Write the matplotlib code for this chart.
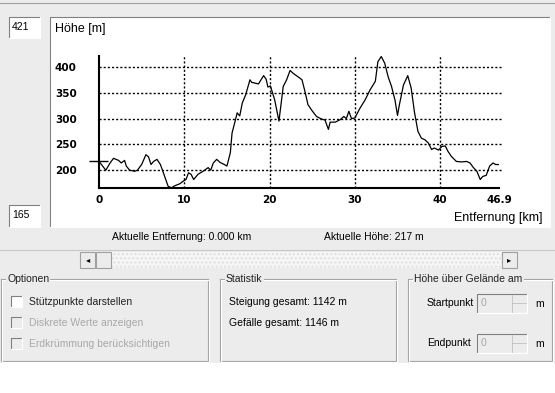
import matplotlib
matplotlib.use("Agg")
import matplotlib.pyplot as plt
from matplotlib.patches import Rectangle

# elevation profile (km, m)
dist_km = [0.0, 0.8, 1.3, 1.7, 2.3, 2.6, 3.0, 3.2, 3.6, 4.2, 4.5, 5.0, 5.5, 5.8, 6.1,
           6.4, 6.8, 7.2, 7.7, 8.1, 8.5, 8.9, 9.5, 9.8, 10.2, 10.5, 10.8, 11.1, 11.6,
           12.2, 12.8, 13.1, 13.4, 13.8, 14.2, 14.7, 15.0, 15.4, 15.6, 15.9, 16.2,
           16.5, 16.8, 17.2, 17.7, 17.9, 18.7, 19.3, 19.6, 19.8, 20.1, 20.6, 21.1,
           21.6, 22.0, 22.4, 22.8, 23.4, 23.8, 24.2, 24.5, 24.9, 25.5, 26.1, 26.5,
           26.9, 27.1, 27.7, 28.3, 28.7, 29.0, 29.3, 29.6, 30.0, 30.6, 31.2, 31.8,
           32.4, 32.7, 33.1, 33.5, 33.9, 34.3, 34.7, 35.0, 35.2, 35.7, 36.2, 36.6,
           37.0, 37.4, 37.8, 38.2, 38.6, 39.0, 39.3, 39.8, 40.2, 40.6, 40.9, 41.3,
           41.9, 42.5, 43.1, 43.5, 43.9, 44.3, 44.7, 45.0, 45.4, 45.8, 46.2, 46.5, 46.9]
height_m = [217, 200, 214, 223, 219, 214, 219, 208, 200, 198, 200, 211, 230, 226, 211,
            217, 221, 211, 188, 169, 166, 170, 174, 178, 182, 195, 192, 182, 192,
            198, 205, 200, 214, 221, 215, 211, 208, 234, 272, 291, 311,
            305, 330, 346, 375, 370, 367, 383, 376, 361, 363, 336, 295,
            362, 375, 393, 387, 380, 375, 349, 327, 317, 304, 299, 297,
            279, 293, 293, 298, 304, 300, 314, 300, 301, 320, 336, 356,
            372, 410, 420, 407, 381, 362, 336, 306, 325, 365, 383, 359,
            311, 275, 262, 259, 253, 240, 243, 239, 246, 247, 237, 227,
            217, 216, 217, 214, 205, 198, 182, 188, 190, 208, 214, 211, 211]

h_min, h_max = 165, 421
total_km = 46.9
x_ticks = [0, 10, 20, 30, 40, 46.9]
x_ticklabels = ["0", "10", "20", "30", "40", "46.9"]
y_ticks = [200, 250, 300, 350, 400]
current_km, current_h = 0.0, 217

W, H = 555, 393
bg = "#ececec"
ui_font = dict(family="Liberation Sans", fontsize=7.5)
fig = plt.figure(figsize=(W / 100, H / 100), dpi=100, facecolor="white")

# pixel overlay for the dialog controls
ui = fig.add_axes([0, 0, 1, 1])
ui.set_xlim(0, W)
ui.set_ylim(H, 0)
ui.axis("off")

ui.add_patch(Rectangle((0, 0), W, 363, facecolor=bg, edgecolor="none"))
ui.plot([0, W], [3, 3], color="#a0a0a0", lw=0.8)

def sunken(x0, y0, x1, y1, face="white"):
    ui.add_patch(Rectangle((x0, y0), x1 - x0, y1 - y0, facecolor=face, edgecolor="none"))
    ui.plot([x0, x0, x1], [y1, y0, y0], color="#808080", lw=0.8)
    ui.plot([x0, x1, x1], [y1, y1, y0], color="#ffffff", lw=0.8)

def groupbox(x0, y0, x1, y1, label):
    for off, col in ((0, "#a0a0a0"), (1, "#ffffff")):
        ui.plot([x0 + off, x1 + off, x1 + off, x0 + off, x0 + off],
                [y0 + off, y0 + off, y1 + off, y1 + off, y0 + off], color=col, lw=0.8)
    ui.text(x0 + 6, y0, label, va="center", ha="left", color="#202020",
            bbox=dict(facecolor=bg, edgecolor="none", pad=1), **ui_font)

# chart panel and min/max boxes
sunken(50, 17, 550, 227)
sunken(9, 17, 40, 38)
sunken(9, 205, 40, 227)
ui.text(12, 22, str(h_max), va="top", **ui_font)
ui.text(12, 210, str(h_min), va="top", **ui_font)

ui.text(55, 29, "Höhe [m]", fontsize=9, family="Liberation Sans", va="center")
ui.text(542, 218, "Entfernung [km]", fontsize=9, family="Liberation Sans",
        va="center", ha="right")

ui.text(182, 237, "Aktuelle Entfernung: %.3f km" % current_km,
        ha="center", va="center", **ui_font)
ui.text(374, 237, "Aktuelle Höhe: %d m" % current_h,
        ha="center", va="center", **ui_font)

# scroll bar
ui.plot([0, W], [250, 250], color="#c8c8c8", lw=0.8)
track = Rectangle((80, 252), 437, 16, facecolor="#f6f6f6", hatch="....", lw=0)
track.set_edgecolor("#e0e0e0")
ui.add_patch(track)
for x0 in (80, 96, 502):
    ui.add_patch(Rectangle((x0, 252), 15, 16, facecolor=bg, edgecolor="#a0a0a0", lw=0.8))
ui.text(88, 260, "◂", fontsize=6, ha="center", va="center")
ui.text(509, 260, "▸", fontsize=6, ha="center", va="center")

# group boxes
groupbox(1, 279, 208, 361, "Optionen")
groupbox(220, 279, 396, 361, "Statistik")
groupbox(408, 279, 552, 361, "Höhe über Gelände am")

options = ["Stützpunkte darstellen", "Diskrete Werte anzeigen", "Erdkrümmung berücksichtigen"]
enabled = [True, False, False]
for i, (label, on) in enumerate(zip(options, enabled)):
    yc = 302 + i * 21
    sunken(11, yc - 6, 22, yc + 5, face="white" if on else bg)
    ui.text(29, yc, label, va="center", color="#202020" if on else "#a8a8a8", **ui_font)

stats = ["Steigung gesamt: 1142 m", "Gefälle gesamt: 1146 m"]
for i, s in enumerate(stats):
    ui.text(229, 302 + i * 21, s, va="center", **ui_font)

for label, yc in (("Startpunkt", 303), ("Endpunkt", 343)):
    ui.text(427, yc, label, va="center", **ui_font)
    sunken(477, yc - 9, 527, yc + 10, face=bg)
    ui.text(481, yc, "0", va="center", color="#a8a8a8", **ui_font)
    ui.plot([512, 512], [yc - 8, yc + 9], color="#c0c0c0", lw=0.6)
    ui.plot([512, 526], [yc, yc], color="#c0c0c0", lw=0.6)
    ui.text(535, yc + 1, "m", va="center", **ui_font)

# profile chart
ax = fig.add_axes([99 / W, 1 - 188.3 / H, 400 / W, (188.3 - 56) / H])
ax.patch.set_alpha(0)
ax.set_xlim(0, total_km)
ax.set_ylim(h_min, h_max)
for s in ("top", "right"):
    ax.spines[s].set_visible(False)
ax.spines["left"].set_linewidth(1.5)
ax.spines["bottom"].set_linewidth(1.5)

ax.hlines(y_ticks, 0, total_km + 0.4, colors="black", linestyles=(0, (1.5, 1.5)),
          lw=1, clip_on=False, zorder=1)
ax.vlines(x_ticks[1:-1], h_min, h_max, colors="black", linestyles=(0, (1.5, 1.5)),
          lw=1, zorder=1)
ax.plot(dist_km, height_m, color="black", lw=0.9, zorder=3)
ax.hlines(current_h, current_km - 1.2, current_km + 1.1, colors="black", lw=1,
          clip_on=False, zorder=3)

ax.set_xticks(x_ticks)
ax.set_xticklabels(x_ticklabels)
ax.set_yticks(y_ticks)
ax.tick_params(length=0, labelsize=7.5)
ax.tick_params(axis="y", pad=16)
ax.tick_params(axis="x", pad=4.5)
for t in ax.get_xticklabels() + ax.get_yticklabels():
    t.set_fontweight("bold")

fig.savefig("out.png", dpi=100, facecolor="white")
